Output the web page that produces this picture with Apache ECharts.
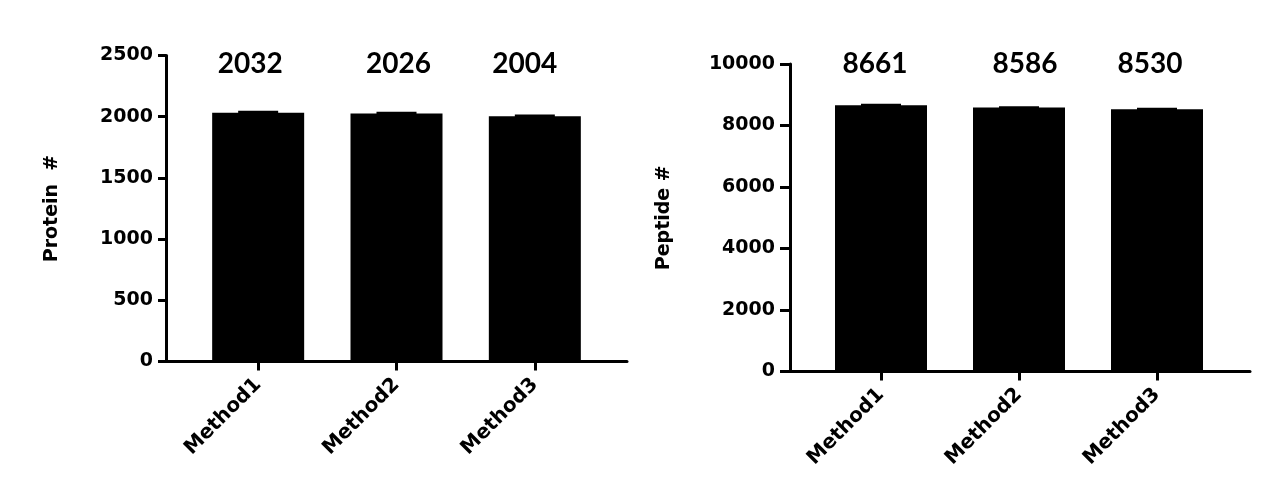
<!DOCTYPE html>
<html>
<head>
<meta charset="utf-8">
<script src="https://cdn.jsdelivr.net/npm/echarts@6/dist/echarts.min.js"></script>
<style>
html,body{margin:0;padding:0;background:#fff;}
#chart{width:1280px;height:504px;}
</style>
</head>
<body>
<div id="chart"></div>
<script>
// ---- data ----
const categories = ['Method1', 'Method2', 'Method3'];
const proteinMean = [2032, 2026, 2004];
const proteinErr = [16, 14, 14];
const peptideMean = [8661, 8586, 8530];
const peptideErr = [45, 40, 45];
const proteinAxis = [0, 2500, 500];   // min, max, interval
const peptideAxis = [0, 10000, 2000]; // min, max, interval
const proteinName = 'Protein  #';
const peptideName = 'Peptide #';

// ---- styles ----
const tickFont = { fontFamily: 'DejaVu Sans', fontWeight: 'bold', fontSize: 19, color: '#000' };
const catFont = { fontFamily: 'DejaVu Sans', fontWeight: 'bold', fontSize: 20, color: '#000' };
const nameFont = { fontFamily: 'DejaVu Sans', fontWeight: 'bold', fontSize: 19, color: '#000' };
const lineStyle = { color: '#000', width: 3 };
const proteinLabelDx = [-8, 2, -10];
const peptideLabelDx = [-6, 6, -7];

function capRenderer(axisMax, labelDx, labelDy) {
  return function (params, api) {
    const i = api.value(0), m = api.value(1), e = api.value(2);
    const base = api.coord([i, m]);
    const top = api.coord([i, m + e]);
    const lab = api.coord([i, axisMax]);
    const w = 40;
    return {
      type: 'group',
      children: [
        { type: 'rect', shape: { x: base[0] - w / 2, y: top[1], width: w, height: base[1] - top[1] + 1 }, style: { fill: '#000' } },
        { type: 'text', x: lab[0] + labelDx[params.dataIndex], y: lab[1] + labelDy,
          style: { text: String(m), font: 'bold 28px Lato', fill: '#000', align: 'center', verticalAlign: 'middle' } }
      ]
    };
  };
}

function frameX(gridIndex) {
  return { type: 'value', gridIndex, min: 0, max: 1, axisLine: { show: true, lineStyle, onZero: false },
    axisTick: { show: false }, axisLabel: { show: false }, splitLine: { show: false } };
}
function catX(gridIndex) {
  return { type: 'category', gridIndex, data: categories, axisLine: { show: false },
    axisTick: { show: true, alignWithLabel: true, length: 9, lineStyle },
    axisLabel: Object.assign({ rotate: 45, margin: 20, interval: 0 }, catFont), splitLine: { show: false } };
}
function shownY(gridIndex, range, name, gap, tickLen, margin) {
  return { type: 'value', gridIndex, min: range[0], max: range[1], interval: range[2],
    name, nameLocation: 'middle', nameGap: gap, nameRotate: 90, nameTextStyle: nameFont,
    axisLine: { show: true, lineStyle }, axisTick: { show: true, length: tickLen, lineStyle },
    axisLabel: Object.assign({ margin, formatter: v => String(v) }, tickFont), splitLine: { show: false } };
}
function hiddenY(gridIndex, range) {
  return { type: 'value', gridIndex, min: range[0], max: range[1], interval: range[2], show: false, splitLine: { show: false } };
}

const option = {
  backgroundColor: '#fff',
  animation: false,
  grid: [
    { left: 189, top: 55.5, width: 415, height: 306 },
    { left: 166, top: 55.5, width: 461, height: 306 },
    { left: 812, top: 64, width: 414, height: 307.5 },
    { left: 790, top: 64, width: 460, height: 307.5 }
  ],
  xAxis: [catX(0), frameX(1), catX(2), frameX(3)],
  yAxis: [
    hiddenY(0, proteinAxis),
    shownY(1, proteinAxis, proteinName, 104, 8, 13),
    hiddenY(2, peptideAxis),
    shownY(3, peptideAxis, peptideName, 116, 10, 15)
  ],
  series: [
    { type: 'bar', xAxisIndex: 0, yAxisIndex: 0, data: proteinMean, barWidth: 92, itemStyle: { color: '#000' } },
    { type: 'custom', xAxisIndex: 0, yAxisIndex: 0, renderItem: capRenderer(proteinAxis[1], proteinLabelDx, 8),
      data: proteinMean.map((v, i) => [i, v, proteinErr[i]]), z: 3 },
    { type: 'bar', xAxisIndex: 2, yAxisIndex: 2, data: peptideMean, barWidth: 92, itemStyle: { color: '#000' } },
    { type: 'custom', xAxisIndex: 2, yAxisIndex: 2, renderItem: capRenderer(peptideAxis[1], peptideLabelDx, 0),
      data: peptideMean.map((v, i) => [i, v, peptideErr[i]]), z: 3 }
  ]
};

const chart = echarts.init(document.getElementById('chart'), null, { renderer: 'canvas' });
chart.setOption(option);
</script>
</body>
</html>
